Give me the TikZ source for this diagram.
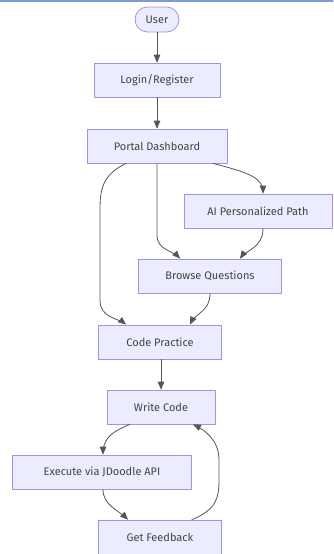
\documentclass[tikz,border=0pt]{standalone}
\usepackage{fontspec}
\setmainfont{Fira Sans}
\usetikzlibrary{arrows}
\definecolor{boxfill}{HTML}{ECECFF}
\definecolor{boxline}{HTML}{A98FE0}
\definecolor{edgeline}{HTML}{555555}
\definecolor{labeltext}{HTML}{444444}
\definecolor{topline}{HTML}{4472C4}
\begin{document}
\begin{tikzpicture}[line cap=round,line join=round,>=triangle 45,x=1pt,y=-1pt,
  box/.style={draw=boxline,fill=boxfill,line width=0.8pt,minimum height=34pt,inner sep=0pt,
    text=labeltext,font=\fontsize{11}{13}\selectfont},
  link/.style={->,line width=0.8pt,color=edgeline}]
\useasboundingbox (0,0) rectangle (333,554);
\draw[line width=1.2pt,color=topline!70] (0,1) -- (333,1);
\node[box,rounded corners=12.5pt,minimum width=44pt,minimum height=25pt] (user) at (157,19.5) {User};
\node[box,minimum width=126pt] (login) at (157,80) {Login/Register};
\node[box,minimum width=140pt] (portal) at (157,146) {Portal Dashboard};
\node[box,minimum width=148pt] (aipath) at (258,211) {AI Personalized Path};
\node[box,minimum width=143pt] (browse) at (210,276) {Browse Questions};
\node[box,minimum width=123pt] (practice) at (160,342) {Code Practice};
\node[box,minimum width=108pt] (write) at (161,407) {Write Code};
\node[box,minimum width=179pt] (execute) at (102,472) {Execute via JDoodle API};
\node[box,minimum width=123pt] (feedback) at (160,537) {Get Feedback};
% straight links
\draw[link] (user) -- (login);
\draw[link] (login) -- (portal);
\draw[link] (practice.south -| write.north) -- (write);
% links out of the dashboard
\draw[link] ([xshift=-31pt]portal.south) .. controls (102,175) and (100,190) .. (100,210) -- (100,300) .. controls (100,318) and (118,318) .. ([xshift=-34pt]practice.north);
\draw[link] (portal.south) -- (157,235) .. controls (157,250) and (172,250) .. ([xshift=-30pt]browse.north);
\draw[link] ([xshift=56pt]portal.south) .. controls (250,173) and (263,178) .. ([xshift=5pt]aipath.north);
\draw[link] ([xshift=5pt]aipath.south) .. controls (263,248) and (246,250) .. ([xshift=30pt]browse.north);
\draw[link] (browse.south) .. controls (210,312) and (196,312) .. ([xshift=30pt]practice.north);
% write / run / feedback loop
\draw[link] ([xshift=-31pt]write.south) .. controls (110,432) and (103,440) .. ([xshift=1pt]execute.north);
\draw[link] ([xshift=1pt]execute.south) .. controls (103,505) and (118,510) .. ([xshift=-32pt]feedback.north);
\draw[link] ([xshift=32pt]feedback.north) .. controls (215,510) and (219,500) .. (219,480) -- (219,460) .. controls (219,440) and (205,430) .. ([xshift=32pt]write.south);
\end{tikzpicture}
\end{document}
